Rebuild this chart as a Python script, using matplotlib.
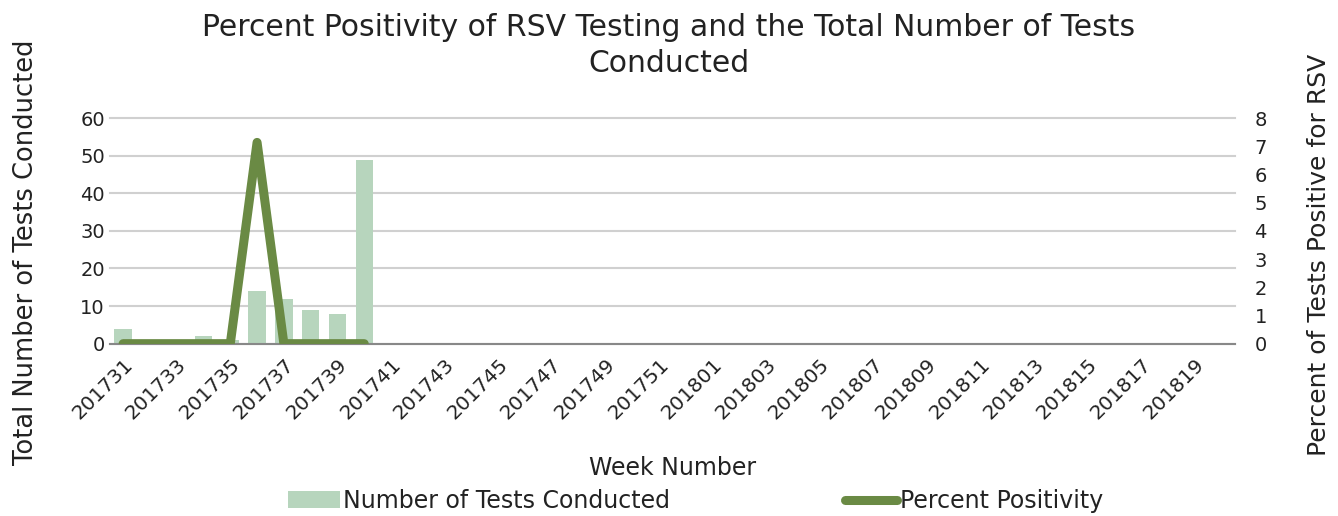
import matplotlib
matplotlib.use("Agg")
import matplotlib.pyplot as plt
from matplotlib.lines import Line2D
from matplotlib.patches import Patch

weeks = [f"2017{w:02d}" for w in range(31, 53)] + [f"2018{w:02d}" for w in range(1, 21)]
tests = [4, 1, 1, 2, 1, 14, 12, 9, 8, 49]
positivity = [0, 0, 0, 0, 0, 7.14, 0, 0, 0, 0]

bar_color = "#b7d5bd"
line_color = "#6a8a44"
text_color = "#222222"

plt.rcParams['font.family'] = ['DejaVu Sans']

fig = plt.figure(figsize=(13.38, 5.16), dpi=100)
ax = fig.add_axes([0.082, 0.334, 0.841, 0.437])
ax2 = ax.twinx()

x_all = list(range(len(weeks)))
ax.bar(x_all[:len(tests)], tests, width=0.65, color=bar_color, zorder=2)
ax.set_ylim(0, 60)
ax.set_yticks(range(0, 61, 10))
ax.set_xlim(-0.5, len(weeks) - 0.5)
ax.grid(axis='y', color='#d0d0d0', linewidth=1.5, zorder=0)
for gl in ax.get_ygridlines():
    gl.set_clip_on(False)
ax.set_axisbelow(True)
for s in ['top', 'right', 'left']:
    ax.spines[s].set_visible(False)
ax.spines['bottom'].set_color('#888888')
ax.spines['bottom'].set_linewidth(1.5)
ax.tick_params(axis='both', length=0, labelsize=14, colors=text_color)
ax.set_xticks(x_all[::2])
ax.set_xticklabels(weeks[::2], rotation=45, ha='right', rotation_mode='anchor')
ax.tick_params(axis='x', pad=8, labelsize=14.5)

ax2.plot(x_all[:len(positivity)], positivity, color=line_color, linewidth=6.5,
         solid_capstyle='round', solid_joinstyle='round', zorder=3)
ax2.set_ylim(0, 8)
ax2.set_yticks(range(0, 9))
for s in ['top', 'right', 'left', 'bottom']:
    ax2.spines[s].set_visible(False)
ax2.tick_params(axis='y', length=0, labelsize=14, colors=text_color, pad=14)

ax.set_ylabel("Total Number of Tests Conducted", fontsize=18.5, color=text_color)
ax.yaxis.set_label_coords(-0.063, 0.405)
ax2.set_ylabel("Percent of Tests Positive for RSV", fontsize=18, color=text_color)
ax2.yaxis.set_label_coords(1.064, 0.395)
ax.set_xlabel("Week Number", fontsize=17, color=text_color, labelpad=24)

fig.suptitle("Percent Positivity of RSV Testing and the Total Number of Tests\nConducted",
             fontsize=21.5, color=text_color, y=0.975, linespacing=1.3)

handles = [Patch(facecolor=bar_color, edgecolor='none'),
           Line2D([0], [0], color=line_color, linewidth=6.5, solid_capstyle='round')]
fig.legend(handles, ["Number of Tests Conducted", "Percent Positivity"], ncol=2,
           loc='lower center', bbox_to_anchor=(0.52, -0.035), frameon=False,
           fontsize=17, handlelength=2.2, handletextpad=0.15, columnspacing=7.4,
           labelcolor=text_color)

fig.savefig("out.png", dpi=100)
